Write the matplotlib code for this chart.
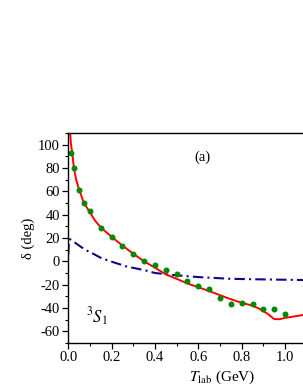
import numpy as np
import matplotlib
matplotlib.use("Agg")
import matplotlib.pyplot as plt
from matplotlib.ticker import MultipleLocator

# ---- data ----
# green dots (phase-shift analysis)
pwa_T = [0.012, 0.026, 0.049, 0.074, 0.098, 0.15, 0.2, 0.25, 0.3, 0.35, 0.4, 0.45,
         0.5, 0.55, 0.6, 0.65, 0.7, 0.75, 0.8, 0.85, 0.9, 0.95, 1.0]
pwa_delta = [93, 80, 61.5, 50, 43, 28.5, 21, 13.3, 6.2, 0.5, -3, -7.4,
             -11.2, -17.2, -21.2, -23.6, -31, -36.5, -35.3, -36.5, -40.8, -40.6, -44.8]

# red solid curve
red_T = [0.008, 0.012, 0.018, 0.026, 0.035, 0.049, 0.072, 0.1, 0.123, 0.15, 0.2, 0.25,
         0.3, 0.35, 0.4, 0.45, 0.5, 0.55, 0.6, 0.65, 0.7, 0.75, 0.8, 0.85, 0.88,
         0.92, 0.95, 0.975, 1.0, 1.083]
red_delta = [112, 101, 93, 80, 71, 62, 50, 42, 35, 29, 21, 13.5,
             6.5, 0, -5.5, -11.2, -15, -19, -22.2, -25.5, -29, -32.5, -35.5, -38, -40.5,
             -45, -49.5, -49.6, -48.5, -46]

# blue dash-dot curve
blue_T = [0.0, 0.002, 0.008, 0.02, 0.046, 0.077, 0.115, 0.15, 0.19, 0.27, 0.35, 0.4,
          0.5, 0.6, 0.75, 0.9, 1.083]
blue_delta = [6, 15, 19, 17.5, 14, 10, 6.5, 3, 0.3, -4.5, -7.5, -10,
              -12, -13.5, -15, -15.5, -16]

plt.rcParams['font.family'] = ['Liberation Serif', 'DejaVu Serif']
plt.rcParams['mathtext.fontset'] = 'stix'
plt.rcParams['axes.unicode_minus'] = False

W, H = 303, 392
fig = plt.figure(figsize=(W / 100, H / 100), dpi=100)
ax = fig.add_axes([68.3 / W, 1 - 343 / H, (W - 68.3) / W, 210 / H])

ax.plot(blue_T, blue_delta, color='#0a0a8a', lw=1.5, linestyle=(0, (5, 2, 1, 2)))
ax.plot(red_T, red_delta, color='red', lw=1.4)
ax.plot(pwa_T, pwa_delta, 'o', color='#008a00', ms=4.3, mec='none')

ax.set_xlim(0, 1.083)
ax.set_ylim(-70, 110)
ax.xaxis.set_minor_locator(MultipleLocator(0.1))
ax.yaxis.set_major_locator(MultipleLocator(20))
ax.yaxis.set_minor_locator(MultipleLocator(10))
ax.set_xticks([0.0, 0.2, 0.4, 0.6, 0.8, 1.0])
ax.set_xticklabels(['0.0', '0.2', '0.4', '0.6', '0.8', '1.0'])

ax.tick_params(which='major', direction='out', length=4, width=0.9, labelsize=10.5, pad=2)
ax.tick_params(which='minor', direction='out', length=2.5, width=0.8)
ax.spines['right'].set_visible(False)
for s in ['top', 'left', 'bottom']:
    ax.spines[s].set_linewidth(1.0)

ax.set_ylabel('δ (deg)', fontsize=10.5, labelpad=2)
fig.text(222 / W, 1 - 377 / H, r'$T_{\rm lab}$ (GeV)', fontsize=11,
         ha='center', va='center')

# panel tag and partial-wave label
fig.text(202 / W, 1 - 157 / H, '(a)', fontsize=10.5, ha='center', va='center')
ax.text(0.132, -47.5, r'$^{3}S_{1}$', fontsize=12, ha='center', va='center')

fig.savefig('out.png', dpi=100)
